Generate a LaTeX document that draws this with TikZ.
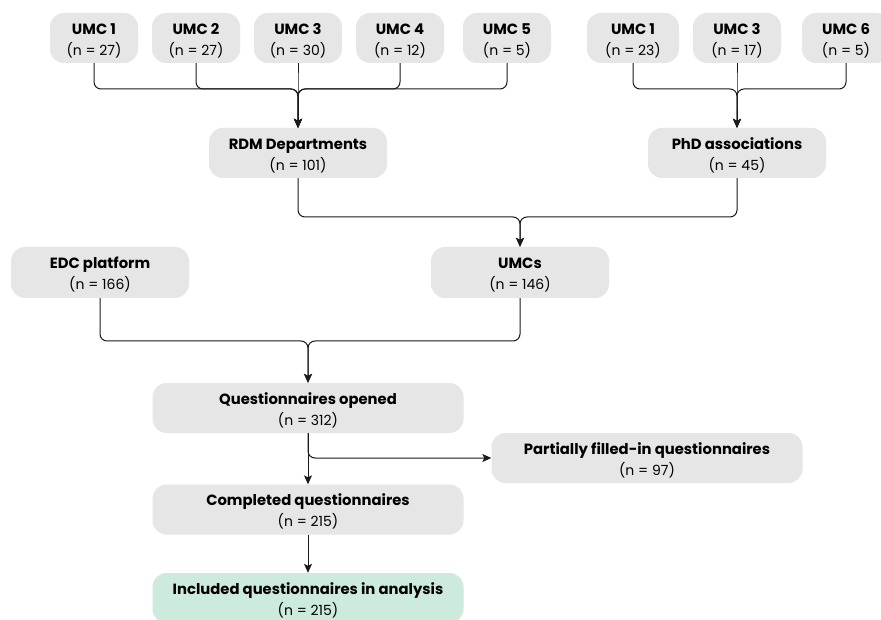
\documentclass[tikz,border=0pt]{standalone}
\usepackage{fontspec}
\setmainfont{Poppins}
\usetikzlibrary{arrows.meta}
\definecolor{boxgray}{HTML}{E6E6E6}
\definecolor{boxgreen}{HTML}{CDEBDD}
\definecolor{linecol}{HTML}{1A1A1A}
\tikzset{
  box/.style={rectangle, rounded corners=14pt, fill=boxgray, draw=none,
    minimum height=50pt, inner sep=0pt, align=center,
    font=\fontsize{14}{21}\selectfont},
  smallbox/.style={box, minimum width=88pt},
  midbox/.style={box, minimum width=178pt},
  widebox/.style={box, minimum width=311pt},
  conn/.style={draw=linecol, line width=1pt, rounded corners=7pt},
  arr/.style={conn, -{Stealth[length=9pt,width=8pt,inset=2pt]}}
}
\newcommand{\bx}[2]{\rule{0pt}{16.4pt}{\fontsize{14.8}{21}\selectfont\bfseries #1}\\#2}
\begin{document}
\begin{tikzpicture}[x=1pt,y=-1pt]
\clip (0,0) rectangle (881,620);
\fill[white] (0,0) rectangle (881,620);
% top row
\node[smallbox] (u1) at (94,38) {\bx{UMC 1}{(n = 27)}};
\node[smallbox] (u2) at (196,38) {\bx{UMC 2}{(n = 27)}};
\node[smallbox] (u3) at (298,38) {\bx{UMC 3}{(n = 30)}};
\node[smallbox] (u4) at (400,38) {\bx{UMC 4}{(n = 12)}};
\node[smallbox] (u5) at (507,38) {\bx{UMC 5}{(n = 5)}};
\node[smallbox, minimum width=92pt] (v1) at (633,38) {\bx{UMC 1}{(n = 23)}};
\node[smallbox] (v3) at (737,38) {\bx{UMC 3}{(n = 17)}};
\node[smallbox] (v6) at (846,38) {\bx{UMC 6}{(n = 5)}};
% second row
\node[midbox] (rdm) at (298,153) {\bx{RDM Departments}{(n = 101)}};
\node[midbox] (phd) at (737,153) {\bx{PhD associations}{(n = 45)}};
% third row
\node[midbox, minimum height=51pt] (edc) at (100,272.5) {\bx{EDC platform}{(n = 166)}};
\node[midbox, minimum height=51pt] (umcs) at (520,272.5) {\bx{UMCs}{(n = 146)}};
% lower
\node[widebox] (qo) at (308,408) {\bx{Questionnaires opened}{(n = 312)}};
\node[widebox] (part) at (647,458) {\bx{Partially filled-in questionnaires}{(n = 97)}};
\node[widebox] (comp) at (308,509.5) {\bx{Completed questionnaires}{(n = 215)}};
\node[widebox, fill=boxgreen] (inc) at (308,598) {\bx{Included questionnaires in analysis}{(n = 215)}};
% merge points
\coordinate (m1) at (298,89);
\coordinate (m2) at (737,89);
\coordinate (m3) at (520,217);
\coordinate (m4) at (308,341);
% connectors
\foreach \s in {u1,u2,u3,u4,u5} \draw[arr] (\s.south) |- (m1) -- (rdm.north);
\foreach \s in {v1,v3,v6} \draw[arr] (\s.south) |- (m2) -- (phd.north);
\draw[arr] (rdm.south) |- (m3) -- (umcs.north);
\draw[arr] (phd.south) |- (m3) -- (umcs.north);
\draw[arr] (edc.south) |- (m4) -- (qo.north);
\draw[arr] (umcs.south) |- (m4) -- (qo.north);
\draw[arr] (qo.south) -- (comp.north);
\draw[arr] (qo.south) |- (part.west);
\draw[arr] (comp.south) -- (inc.north);
\end{tikzpicture}
\end{document}
